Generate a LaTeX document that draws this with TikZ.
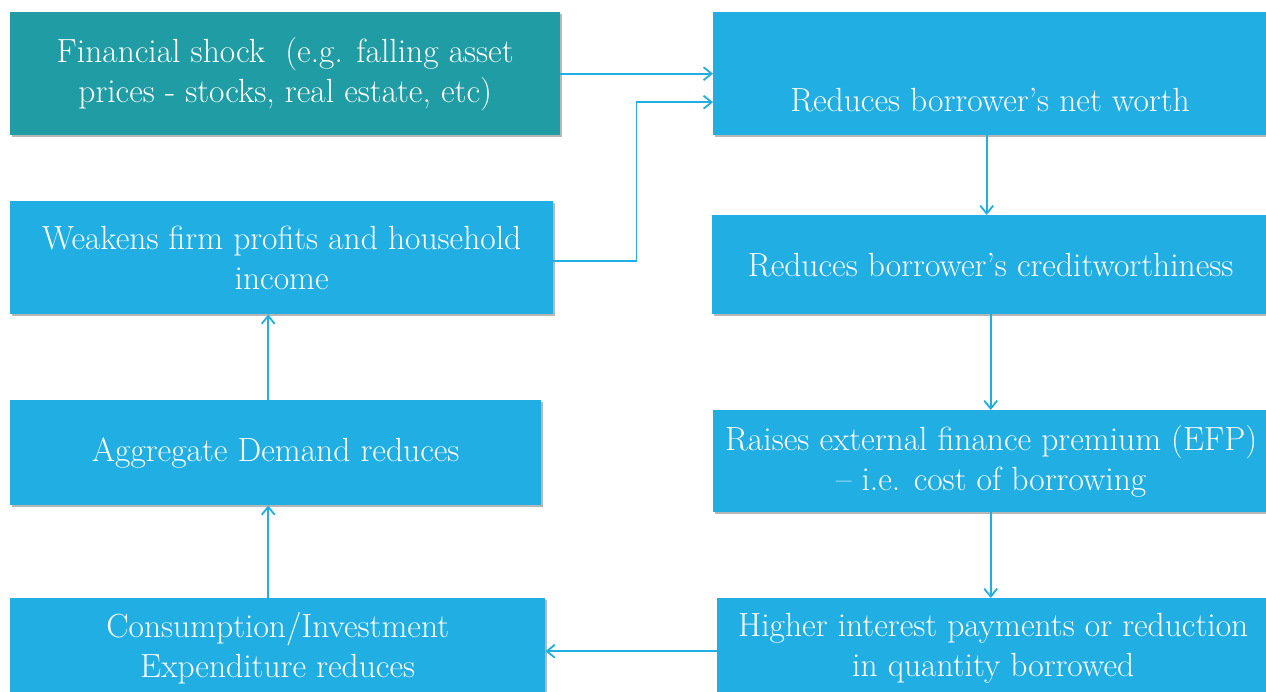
\documentclass[tikz,border=0pt]{standalone}
\usepackage{fontspec}
\usetikzlibrary{shadows,arrows.meta}
\definecolor{shockteal}{HTML}{209CA4}
\definecolor{flowblue}{HTML}{20AEE3}
\tikzset{
  flowbox/.style={fill=flowblue, draw=none, inner sep=0pt, anchor=north west,
    drop shadow={shadow xshift=2pt, shadow yshift=-2pt, opacity=0.4, fill=black!70},
    text=white, align=center, font=\fontsize{33.5}{40}\selectfont},
  flowtext/.style={text=white, align=center, font=\fontsize{33.5}{40}\selectfont},
  flowarrow/.style={draw=flowblue, line width=1.8pt,
    -{Straight Barb[length=8pt, width=13pt, line width=1.8pt]}},
}
\begin{document}
\begin{tikzpicture}[x=1pt, y=-1pt]
\useasboundingbox (0,0) rectangle (1266,691);
\clip (0,0) rectangle (1266,691);
\fill[white] (0,0) rectangle (1266,691);

% left column
\node[flowbox, fill=shockteal, minimum width=550pt, minimum height=123pt] (shock) at (10,12)
  {Financial shock ~(e.g. falling asset\\prices - stocks, real estate, etc)};
\node[flowbox, minimum width=543pt, minimum height=113pt] (weak) at (10,201)
  {Weakens firm profits and household\\income};
\node[flowbox, minimum width=531pt, minimum height=105pt] (agg) at (10,400)
  {Aggregate Demand reduces};
\node[flowbox, minimum width=535pt, minimum height=100pt] (cons) at (10,598)
  {Consumption/Investment\\Expenditure reduces};

% right column
\node[flowbox, minimum width=556pt, minimum height=123pt] (nw) at (713,12) {};
\node[flowtext] (nwtext) at (990,100) {Reduces borrower's net worth};
\node[flowbox, minimum width=557pt, minimum height=99pt] (cw) at (712,215)
  {Reduces borrower's creditworthiness};
\node[flowbox, minimum width=556pt, minimum height=102pt] (efp) at (713,410)
  {Raises external finance premium (EFP)\\-- i.e. cost of borrowing};
\node[flowbox, minimum width=552pt, minimum height=100pt] (hi) at (717,598)
  {Higher interest payments or reduction\\in quantity borrowed};

% connectors
\draw[flowarrow] (shock.east) -- (shock.east -| nw.west);
\draw[flowarrow] ([yshift=-3.5pt]weak.east) -| ++(83pt,0) |- ([yshift=-28.5pt]nw.west);
\draw[flowarrow] ([xshift=-4.5pt]nw.south) -- ([xshift=-4.5pt]nw.south |- cw.north);
\draw[flowarrow] (cw.south) -- (cw.south |- efp.north);
\draw[flowarrow] ([xshift=-0.5pt]efp.south) -- ([xshift=-0.5pt]efp.south |- hi.north);
\draw[flowarrow] ([yshift=-3pt]hi.west) -- ([yshift=-3pt]hi.west -| cons.east);
\draw[flowarrow] ([xshift=-9.5pt]cons.north) -- ([xshift=-9.5pt]cons.north |- agg.south);
\draw[flowarrow] ([xshift=-7.5pt]agg.north) -- ([xshift=-7.5pt]agg.north |- weak.south);
\end{tikzpicture}
\end{document}
